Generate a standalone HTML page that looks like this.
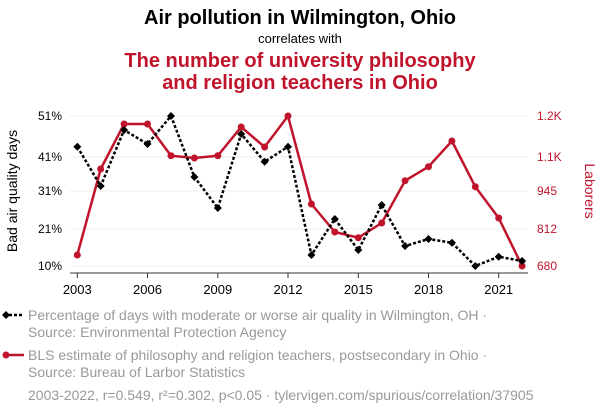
<!DOCTYPE html>
<html><head><meta charset="utf-8"><style>
body{margin:0;background:#fff;width:600px;height:414px;overflow:hidden;font-family:"Liberation Sans",sans-serif}
</style></head><body>
<svg width="600" height="414" xmlns="http://www.w3.org/2000/svg" font-family="Liberation Sans, sans-serif">
<text x="300" y="24" text-anchor="middle" font-size="20" font-weight="bold" fill="#000">Air pollution in Wilmington, Ohio</text>
<text x="300" y="43" text-anchor="middle" font-size="13" fill="#000">correlates with</text>
<text x="300" y="67" text-anchor="middle" font-size="20" font-weight="bold" fill="#c0142c">The number of university philosophy</text>
<text x="300" y="89" text-anchor="middle" font-size="20" font-weight="bold" fill="#c0142c">and religion teachers in Ohio</text>
<g stroke="#eee" stroke-width="1">
<line x1="70" x2="528" y1="116" y2="116"/><line x1="70" x2="528" y1="156.7" y2="156.7"/><line x1="70" x2="528" y1="191" y2="191"/><line x1="70" x2="528" y1="229" y2="229"/><line x1="70" x2="528" y1="266" y2="266"/>
</g>
<line x1="70" x2="528" y1="273" y2="273" stroke="#333" stroke-width="1"/>
<g stroke="#333"><line x1="77.3" x2="77.3" y1="273" y2="278"/><line x1="147.5" x2="147.5" y1="273" y2="278"/><line x1="217.8" x2="217.8" y1="273" y2="278"/><line x1="288" x2="288" y1="273" y2="278"/><line x1="358.3" x2="358.3" y1="273" y2="278"/><line x1="428.5" x2="428.5" y1="273" y2="278"/><line x1="498.7" x2="498.7" y1="273" y2="278"/></g>
<g font-size="13" fill="#000" text-anchor="middle">
<text x="77.3" y="294">2003</text><text x="147.5" y="294">2006</text><text x="217.8" y="294">2009</text><text x="288" y="294">2012</text><text x="358.3" y="294">2015</text><text x="428.5" y="294">2018</text><text x="498.7" y="294">2021</text>
</g>
<g font-size="12" fill="#000" text-anchor="end">
<text x="62" y="120">51%</text><text x="62" y="161">41%</text><text x="62" y="195">31%</text><text x="62" y="233">21%</text><text x="62" y="270">10%</text>
</g>
<g font-size="12" fill="#c0142c" text-anchor="start">
<text x="537" y="120">1.2K</text><text x="537" y="161">1.1K</text><text x="537" y="195">945</text><text x="537" y="233">812</text><text x="537" y="270">680</text>
</g>
<text transform="translate(17,191) rotate(-90)" text-anchor="middle" font-size="14" fill="#000">Bad air quality days</text>
<text transform="translate(585,191) rotate(90)" text-anchor="middle" font-size="14" fill="#c0142c">Laborers</text>
<polyline fill="none" stroke="#c0142c" stroke-width="2.5" stroke-linejoin="round" points="77.3,255 100.7,169 124.1,124 147.5,124 171,155.7 194.4,158 217.8,155.7 241.2,127 264.6,147 288,116 311.4,204 334.8,232 358.3,237.7 381.7,223 405.1,180.7 428.5,166.7 451.9,141 475.3,186.7 498.7,218 522.1,266"/>
<g fill="#c0142c">
<circle cx="77.3" cy="255" r="3.5"/><circle cx="100.7" cy="169" r="3.5"/><circle cx="124.1" cy="124" r="3.5"/><circle cx="147.5" cy="124" r="3.5"/><circle cx="171" cy="155.7" r="3.5"/><circle cx="194.4" cy="158" r="3.5"/><circle cx="217.8" cy="155.7" r="3.5"/><circle cx="241.2" cy="127" r="3.5"/><circle cx="264.6" cy="147" r="3.5"/><circle cx="288" cy="116" r="3.5"/><circle cx="311.4" cy="204" r="3.5"/><circle cx="334.8" cy="232" r="3.5"/><circle cx="358.3" cy="237.7" r="3.5"/><circle cx="381.7" cy="223" r="3.5"/><circle cx="405.1" cy="180.7" r="3.5"/><circle cx="428.5" cy="166.7" r="3.5"/><circle cx="451.9" cy="141" r="3.5"/><circle cx="475.3" cy="186.7" r="3.5"/><circle cx="498.7" cy="218" r="3.5"/><circle cx="522.1" cy="266" r="3.5"/>
</g>
<polyline fill="none" stroke="#000" stroke-width="2.5" stroke-dasharray="3,2" points="77.3,146.7 100.7,186 124.1,130 147.5,144 171,116 194.4,177 217.8,208 241.2,134 264.6,161.7 288,146.7 311.4,255 334.8,219 358.3,250 381.7,205 405.1,246 428.5,239 451.9,242.7 475.3,266 498.7,256.7 522.1,261"/>
<g fill="#000">
<path d="M77.3,142.7l4,4l-4,4l-4,-4z"/><path d="M100.7,182l4,4l-4,4l-4,-4z"/><path d="M124.1,126l4,4l-4,4l-4,-4z"/><path d="M147.5,140l4,4l-4,4l-4,-4z"/><path d="M171,112l4,4l-4,4l-4,-4z"/><path d="M194.4,173l4,4l-4,4l-4,-4z"/><path d="M217.8,204l4,4l-4,4l-4,-4z"/><path d="M241.2,130l4,4l-4,4l-4,-4z"/><path d="M264.6,157.7l4,4l-4,4l-4,-4z"/><path d="M288,142.7l4,4l-4,4l-4,-4z"/><path d="M311.4,251l4,4l-4,4l-4,-4z"/><path d="M334.8,215l4,4l-4,4l-4,-4z"/><path d="M358.3,246l4,4l-4,4l-4,-4z"/><path d="M381.7,201l4,4l-4,4l-4,-4z"/><path d="M405.1,242l4,4l-4,4l-4,-4z"/><path d="M428.5,235l4,4l-4,4l-4,-4z"/><path d="M451.9,238.7l4,4l-4,4l-4,-4z"/><path d="M475.3,262l4,4l-4,4l-4,-4z"/><path d="M498.7,252.7l4,4l-4,4l-4,-4z"/><path d="M522.1,257l4,4l-4,4l-4,-4z"/>
</g>
<line x1="4" x2="24" y1="315" y2="315" stroke="#000" stroke-width="2.5" stroke-dasharray="3,2"/>
<path d="M6,311l4,4l-4,4l-4,-4z" fill="#000"/>
<text x="28" y="320" font-size="14" fill="#999">Percentage of days with moderate or worse air quality in Wilmington, OH ·</text>
<text x="28" y="337" font-size="14" fill="#999">Source: Environmental Protection Agency</text>
<line x1="4" x2="24" y1="355" y2="355" stroke="#c0142c" stroke-width="2.5"/>
<circle cx="6" cy="355" r="3.5" fill="#c0142c"/>
<text x="28" y="360" font-size="14" fill="#999">BLS estimate of philosophy and religion teachers, postsecondary in Ohio ·</text>
<text x="28" y="377" font-size="14" fill="#999">Source: Bureau of Larbor Statistics</text>
<text x="28" y="400" font-size="14" fill="#999">2003-2022, r=0.549, r²=0.302, p&lt;0.05 · tylervigen.com/spurious/correlation/37905</text>
</svg>
</body></html>
